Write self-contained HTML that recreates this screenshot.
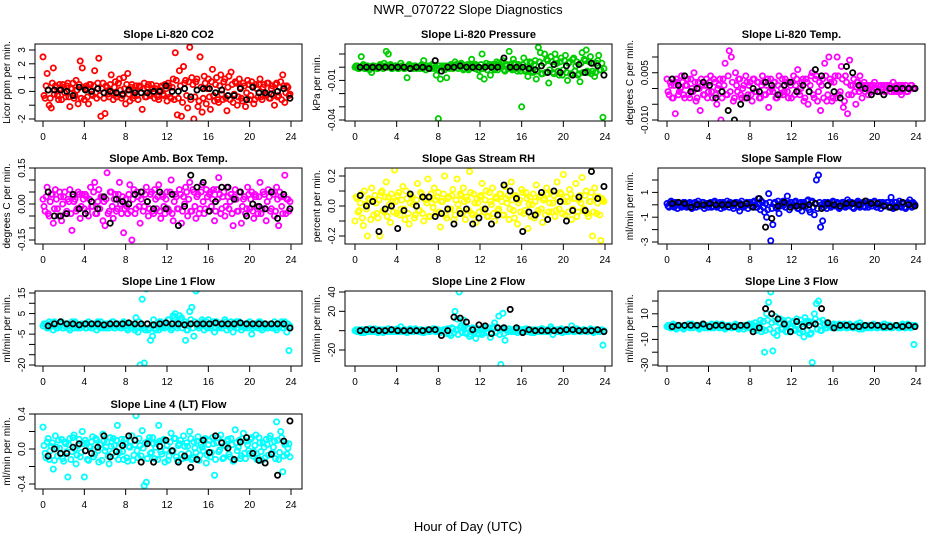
<!DOCTYPE html>
<html><head><meta charset="utf-8">
<style>
html,body{margin:0;padding:0;background:#fff;}
svg{display:block;font-family:"Liberation Sans",Arial,sans-serif;}
</style></head>
<body>
<svg id="chart" width="936" height="540" viewBox="0 0 936 540" xmlns="http://www.w3.org/2000/svg">
<rect x="0" y="0" width="936" height="540" fill="#fff"/>
<text x="468" y="14" text-anchor="middle" font-size="13">NWR_070722  Slope Diagnostics</text>
<text x="468" y="531" text-anchor="middle" font-size="13">Hour of Day (UTC)</text>
</svg>
<script>
const xTicks = [0,4,8,12,16,20,24];
const titles = ["Slope Li-820 CO2","Slope Li-820 Pressure","Slope Li-820 Temp.","Slope Amb. Box Temp.","Slope Gas Stream RH","Slope Sample Flow","Slope Line 1 Flow","Slope Line 2 Flow","Slope Line 3 Flow","Slope Line 4 (LT) Flow"];
const yTitles = ["Licor ppm per min.","kPa per min.","degrees C per min.","degrees C per min.","percent per min.","ml/min per min.","ml/min per min.","ml/min per min.","ml/min per min.","ml/min per min."];
const colors = ["#ff0000","#00cd00","#ff00ff","#ff00ff","#ffff00","#0000ff","#00ffff","#00ffff","#00ffff","#00ffff"];
const yTickVals = [[-2,-1,0,1,2,3],[-0.04,-0.03,-0.02,-0.01,0,0.01],[-0.010,-0.005,0,0.005,0.010],[-0.15,-0.10,-0.05,0,0.05,0.10,0.15],[-0.2,-0.1,0,0.1,0.2],[-3,-2,-1,0,1,2],[-20,-15,-10,-5,0,5,10,15],[-20,0,20,40],[-30,-20,-10,0,10,20],[-0.4,-0.2,0,0.2,0.4]];
const yTickLabels = [["-2","","0","1","2","3"],["-0.04","","","-0.01","",""],["-0.010","","","0.005",""],["-0.15","","","0.00","","","0.15"],["-0.2","","0.0","","0.2"],["-3","","-1","","1",""],["-20","","","-5","","5","","15"],["-20","","20","40"],["-30","","-10","","10",""],["-0.4","","0.0","","0.4"]];
const yHi = [3,0.01,0.010,0.15,0.2,2,15,40,20,0.4];
const yLo = [-2,-0.04,-0.010,-0.15,-0.2,-3,-20,-20,-30,-0.4];
const hours = [];
for (let i = 0; i < 120; i++) hours.push(+(i * 0.2).toFixed(1));
const hoursB = [];
for (let i = 0; i < 120; i++) hoursB.push(+(i * 0.2 + 0.1).toFixed(1));
const blackHours = [0.5,1.1,1.7,2.3,2.9,3.5,4.1,4.7,5.3,5.9,6.5,7.1,7.7,8.3,8.9,9.5,10.1,10.7,11.3,11.9,12.5,13.1,13.7,14.3,14.9,15.5,16.1,16.7,17.3,17.9,18.5,19.1,19.7,20.3,20.9,21.5,22.1,22.7,23.3,23.9];

const co2 = [2.5,-0.5,1.3,-1.0,-1.2,1.7,0.4,-0.3,0.5,-0.6, 0.3,-0.4,0.6,-1.1,0.2,-0.5,0.8,-0.9,2.2,1.7, -0.6,0.4,-0.9,0.5,-0.3,1.5,-0.5,2.4,-1.8,0.6, -1.6,0.3,-0.4,1.2,-0.6,0.7,-0.2,0.9,-0.5,1.0, -0.9,1.3,-0.7,0.5,-0.3,0.4,-0.6,0.3,-1.3,0.6, -0.4,0.5,-0.3,0.2,-0.5,0.4,-0.6,0.3,-0.2,0.5, -0.7,0.4,-0.5,0.9,2.8,-1.7,1.5,-1.8,1.8,0.8, -1.2,3.2,1.0,-2.0,0.7,-1.1,2.5,-1.5,1.1,-0.9, 0.9,-1.3,1.6,-0.7,1.0,-0.8,1.2,-0.6,0.9,-1.4, 1.1,1.4,-0.8,0.7,-1.0,0.9,-0.5,0.6,-1.1,0.8, -0.6,0.7,-0.9,0.5,-0.4,0.9,-0.6,0.5,-0.3,0.6, -0.5,0.4,-1.0,0.6,-0.3,0.7,1.2,-0.8,0.4,-0.3];
const co2B = [-0.3,0.4,0.1,-0.5,0.6,-0.2,0.3,-0.6,0.2,0.5, -0.1,0.4,-0.4,0.2,0.6,-0.3,0.1,0.5,-0.5,0.3, 0.2,-0.4,0.5,-0.2,0.4,-0.1,0.6,-0.3,0.2,-0.5, 0.4,-0.2,0.5,-0.1,0.3,-0.4,0.6,0.1,-0.3,0.2, 0.5,-0.2,0.3,-0.5,0.1,-0.3,0.4,-0.1,0.2,-0.4, 0.3,-0.2,0.5,-0.1,0.2,-0.4,0.1,0.4,-0.3,0.2, 0.6,-0.4,0.3,-0.6,0.8,-0.5,0.4,-0.8,0.6,-0.3, 0.7,-0.6,0.5,-0.4,0.9,-0.7,0.3,-0.5,0.6,0.2, -0.4,0.7,-0.3,0.5,-0.6,0.4,-0.2,0.7,-0.5,0.3, -0.6,0.5,-0.2,0.6,-0.4,0.3,-0.7,0.4,-0.1,0.5, -0.3,0.4,-0.6,0.2,0.5,-0.4,0.3,-0.2,0.6,-0.5, 0.2,-0.3,0.5,-0.4,0.3,-0.6,0.4,-0.1,0.3,-0.2];
const co2Mean = [0.1,0.1,0.1,0,-0.3,0.3,0.1,0,0.2,-0.1,0,-0.1,-0.2,0.1,-0.1,-0.1,-0.1,0,0,0.4,0,0,0.2,-0.4,0.1,0.2,0.2,-0.1,0.1,-0.3,-0.3,0.2,-0.6,0.3,-0.1,-0.1,-0.2,0,0.2,-0.5];
const press = [0,0.001,-0.001,0.008,0.002,-0.001,0.001,-0.002,-0.004,0.001, 0,-0.001,0.002,0.001,0.003,0.012,0.010,0.002,-0.001,0.001, 0.001,-0.001,0.003,0,-0.001,-0.008,0.002,0.001,-0.001,0.001, 0,-0.001,0.002,0.005,-0.002,0.001,0,0.002,-0.001,-0.006, -0.039,-0.009,0.001,-0.002,-0.008,0.001,0.002,-0.001,0.004,0.001, 0.001,0.003,-0.002,0.001,0.002,-0.001,0.006,0.001,0.002,-0.002, -0.007,0.010,-0.009,0.003,0.001,-0.006,0.002,-0.002,0.004,0.003, 0.001,0.005,-0.003,0.002,0.012,-0.001,0.006,0.002,-0.003,0.001, -0.030,0.007,-0.002,-0.007,0.004,-0.003,0.002,-0.009,0.015,0.011, -0.005,0.010,0.006,-0.012,0.008,-0.004,0.010,0.003,-0.006,0.007, -0.002,0.009,-0.010,0.004,-0.005,0.007,0.001,-0.006,-0.011,0.011, 0.006,0.013,-0.004,0.008,-0.003,-0.007,0.003,0.009,-0.002,-0.038];
const pressB = [0.001,-0.001,0,0.001,-0.001,0.001,0,-0.001,0.001,0, -0.001,0.001,0,-0.001,0.001,0,0.001,-0.001,0,0.001, -0.001,0,0.001,-0.001,0,0.001,-0.001,0,0.001,-0.001, 0,0.001,-0.001,0,0.001,0,-0.001,0.001,0,-0.001, 0.001,0,-0.001,0.001,0,-0.001,0.001,0,0.002,-0.001, 0,0.002,-0.001,0.001,-0.002,0,0.002,-0.001,0.001,-0.002, 0.002,-0.001,0.001,-0.002,0.002,0,-0.001,0.002,-0.002,0.001, 0.003,-0.002,0.001,-0.001,0.002,-0.002,0.003,-0.001,0.002,-0.003, 0.002,-0.003,0.004,-0.002,0.003,-0.004,0.005,-0.003,0.004,-0.005, 0.003,-0.004,0.005,-0.002,0.004,-0.005,0.006,-0.003,0.004,-0.006, 0.005,-0.004,0.003,-0.005,0.006,-0.003,0.004,-0.005,0.003,-0.004, 0.005,-0.003,0.004,-0.005,0.003,-0.004,0.005,-0.002,0.003,-0.001];
const pressMean = [0,0,0,0,0,0,0,0,-0.001,0,0,-0.001,0.005,-0.003,0,0,0.001,0,0,0,0,0,0,0.007,0,0,0,-0.001,-0.002,0.001,-0.004,0.002,-0.004,0.001,-0.006,0.002,-0.004,0.003,0.001,-0.006];
const temp = [0.003,-0.002,0.001,-0.003,-0.008,0.002,-0.001,0.004,-0.002,0.001, 0.003,-0.003,0.000,0.005,-0.004,0.002,-0.007,0.001,-0.002,0.003, -0.001,0.004,-0.003,0.002,-0.005,0.001,-0.010,0.003,0.008,-0.002, 0.012,0.010,-0.004,0.005,-0.001,0.003,-0.003,0.001,0.004,-0.002, 0.002,-0.004,0.003,-0.001,0.002,-0.003,0.004,-0.002,0.001,-0.006, 0.003,-0.001,0.002,-0.003,0.004,0.000,-0.002,0.003,-0.001,0.002, -0.003,0.004,0.001,0.006,-0.002,0.002,-0.004,0.003,-0.005,0.001, 0.005,-0.003,0.004,-0.001,-0.007,0.003,0.008,-0.004,0.010,0.002, -0.003,0.004,0.010,-0.002,0.007,-0.006,0.004,-0.008,0.009,-0.002, 0.003,-0.005,0.002,0.004,-0.003,0.002,0.001,-0.002,0.001,-0.001, 0.002,0.000,-0.001,0.001,0.000,-0.001,0.001,0.000,-0.001,0.002, 0.000,-0.001,0.001,-0.002,0.000,0.001,-0.001,0.000,0.001,0.000];
const tempB = [-0.001,0.002,-0.003,0.001,0.003,-0.002,0.000,0.002,-0.003,0.001, -0.002,0.003,-0.001,0.002,-0.003,0.000,0.003,-0.002,0.001,-0.003, 0.002,-0.001,0.003,-0.002,0.000,0.003,-0.003,0.001,-0.002,0.004, -0.001,0.002,-0.003,0.001,0.003,-0.002,0.000,-0.003,0.002,0.001, -0.002,0.003,-0.001,0.002,-0.003,0.001,0.002,-0.002,0.003,-0.001, 0.000,0.002,-0.003,0.001,-0.002,0.003,-0.001,0.002,-0.003,0.001, 0.002,-0.002,0.003,-0.001,0.000,0.003,-0.003,0.002,-0.001,0.004, -0.002,0.003,-0.004,0.002,0.001,-0.003,0.004,-0.002,0.003,-0.004, 0.002,-0.003,0.004,-0.001,0.003,-0.004,0.002,-0.002,0.001,0.001, -0.001,0.002,-0.001,0.000,0.001,-0.001,0.001,0.000,-0.001,0.001, 0.000,0.001,-0.001,0.000,0.001,-0.001,0.000,0.001,0.000,-0.001, 0.001,0.000,-0.001,0.001,0.000,-0.001,0.000,0.001,0.000,0.000];
const tempMean = [0.003,0.001,0.004,-0.001,0,0.002,0.001,-0.003,-0.001,-0.007,-0.010,-0.005,-0.003,0,-0.001,0.002,0.001,-0.002,0.001,0.002,-0.001,0.001,-0.001,0.006,0.004,0.001,-0.001,-0.003,0.007,0.005,0.001,0,-0.002,-0.001,-0.002,0,0,0,0,0];
const boxT = [0.02,-0.03,0.07,-0.05,0.04,-0.08,0.06,-0.02,0.05,-0.07, 0.03,-0.04,0.02,0.06,-0.11,0.01,-0.03,0.05,-0.06,0.04, -0.02,0.03,-0.05,0.07,-0.01,0.09,-0.04,0.06,0.03,-0.07, -0.09,0.13,-0.03,0.05,-0.06,0.04,-0.02,0.09,-0.04,-0.12, 0.02,-0.04,0.08,-0.15,0.06,-0.02,0.03,-0.08,0.05,-0.01, 0.07,-0.05,0.04,-0.03,0.06,-0.02,0.08,-0.06,0.03,-0.04, 0.05,-0.03,0.10,-0.07,0.04,-0.02,0.06,-0.08,0.03,0.07, -0.05,0.09,-0.03,0.05,-0.06,0.04,-0.02,0.08,-0.04,0.06, -0.03,0.05,0.02,-0.07,0.06,0.11,-0.04,0.03,-0.05,0.07, -0.02,0.04,-0.09,0.06,-0.03,0.05,-0.08,0.02,-0.04,0.07, -0.02,0.05,-0.06,0.03,-0.04,0.09,-0.02,0.04,-0.07,0.06, -0.03,0.05,-0.05,0.07,-0.09,0.03,-0.04,0.12,0.02,-0.03];
const boxTB = [-0.01,0.03,-0.04,0.01,0.04,-0.02,0.02,-0.05,0.03,0.00, 0.05,-0.03,0.01,-0.04,0.03,0.02,-0.02,0.04,-0.01,0.02, 0.04,-0.03,0.02,-0.01,0.05,-0.04,0.01,-0.02,0.03,0.01, 0.02,-0.04,0.05,-0.01,0.02,-0.03,0.04,0.00,0.03,-0.02, -0.01,0.04,-0.03,0.02,-0.04,0.05,-0.01,0.02,-0.03,0.04, 0.01,-0.02,0.05,-0.04,0.02,0.03,-0.03,0.04,-0.01,0.02, -0.02,0.05,-0.04,0.01,0.03,-0.02,0.04,-0.03,0.00,0.05, 0.02,-0.03,0.06,-0.01,0.03,-0.04,0.05,0.01,-0.02,0.03, 0.04,-0.01,0.06,-0.03,0.02,0.04,-0.02,0.05,-0.01,0.03, 0.01,-0.04,0.03,0.02,-0.03,0.05,-0.01,0.03,-0.02,0.04, 0.02,-0.03,0.04,-0.01,0.03,-0.04,0.05,-0.02,0.01,0.03, -0.02,0.04,-0.03,0.02,0.05,-0.01,0.03,-0.04,0.02,0.01];
const boxTMean = [0.05,-0.05,-0.05,-0.04,0.04,-0.02,-0.04,0.01,-0.02,0.03,-0.08,0.02,0.01,0.00,0.04,0.05,0.01,-0.02,0.05,-0.02,0.04,-0.09,-0.01,0.12,0.07,0.09,-0.03,0.01,0.07,0.07,0.02,0.05,-0.05,0.00,-0.01,-0.02,0.05,-0.06,0.04,-0.02];
const rh = [-0.10,0.05,-0.03,0.08,-0.13,0.01,-0.20,0.04,0.12,-0.06, 0.02,-0.08,-0.20,0.10,-0.04,0.16,0.06,-0.11,0.03,0.24, -0.05,0.09,-0.02,0.13,-0.09,0.05,-0.12,0.07,0.01,-0.06, 0.15,-0.03,0.08,-0.10,0.04,0.18,-0.07,0.02,0.12,-0.05, 0.09,-0.14,0.03,0.20,-0.08,0.06,-0.02,0.11,-0.06,0.18, -0.03,0.07,0.12,-0.09,0.04,0.23,-0.05,0.08,-0.11,0.02, 0.06,0.15,-0.04,0.10,-0.07,0.03,0.12,-0.10,0.05,-0.02, 0.08,-0.06,0.13,0.02,-0.09,0.16,-0.03,0.07,-0.12,0.04, 0.11,-0.05,0.09,-0.15,0.06,0.01,-0.08,0.14,-0.03,0.07, -0.11,0.05,0.12,-0.04,0.09,0.02,-0.07,0.16,-0.02,0.08, 0.21,-0.06,0.03,0.11,-0.09,0.05,0.15,-0.04,0.07,0.19, -0.02,0.10,-0.07,0.03,-0.20,0.12,-0.05,0.06,-0.23,0.04];
const rhB = [0.06,-0.04,0.02,-0.08,0.10,-0.02,0.05,-0.09,0.03,0.07, -0.05,0.04,0.09,-0.03,0.06,-0.07,0.01,0.08,-0.04,0.03, 0.07,-0.06,0.04,-0.02,0.10,-0.05,0.02,0.06,-0.08,0.04, -0.03,0.09,-0.05,0.05,0.02,-0.07,0.08,-0.01,0.04,0.06, -0.04,0.03,0.08,-0.06,0.05,-0.02,0.07,-0.09,0.04,0.01, 0.08,-0.05,0.03,0.06,-0.03,0.09,-0.06,0.02,0.05,-0.04, 0.07,-0.02,0.04,-0.07,0.09,0.01,-0.05,0.06,-0.03,0.08, 0.03,-0.06,0.05,0.07,-0.02,0.04,-0.08,0.06,0.02,-0.04, 0.09,-0.03,0.05,0.01,-0.07,0.08,0.03,-0.05,0.06,-0.02, 0.04,-0.06,0.08,0.02,-0.04,0.07,-0.03,0.05,0.09,-0.05, 0.03,0.06,-0.04,0.08,-0.02,0.05,-0.07,0.04,0.02,-0.03, 0.07,-0.05,0.03,0.09,-0.04,0.06,0.02,-0.06,0.05,0.03];
const rhMean = [0.07,0.00,0.03,-0.17,-0.02,0.00,-0.15,-0.03,0.08,0.00,0.06,0.06,-0.07,-0.05,-0.02,-0.12,-0.05,-0.02,-0.12,-0.08,-0.02,-0.12,-0.06,0.14,0.10,0.05,-0.17,-0.04,-0.06,0.09,-0.09,0.10,0.03,-0.10,-0.03,0.06,-0.03,0.23,0.05,0.13];
const sflow = [0.1,-0.2,0.3,-0.1,0.2,-0.3,0.1,-0.2,0.2,0, -0.1,0.2,-0.3,0.1,-0.2,0.3,-0.1,0.2,-0.3,0.1, -0.2,0.2,-0.1,0.3,-0.2,0.1,-0.3,0.2,-0.1,0.3, -0.2,0.1,-0.3,0.2,-0.1,-0.5,0.3,-0.2,0.1,-0.3, 0.2,-0.1,0.3,-0.2,0.5,-0.4,0.2,-0.6,-1.0,0.9, -2.9,-1.6,0.2,-0.3,-0.7,0.1,0.3,-0.2,0.7,-0.4, 0.2,-0.1,0.3,-0.3,0.1,-0.5,0.2,-0.1,0.4,-0.6, 0.3,-0.8,2.0,2.4,-1.8,-1.3,0.2,-0.3,0.1,-0.2, 0.3,-0.1,0.2,-0.3,0.1,0.2,-0.2,0.4,-0.1,0.2, -0.3,0.1,0.3,-0.2,0.1,-0.1,0.3,-0.2,0.2,-0.1, 0.3,-0.2,0.1,-0.3,0.2,-0.1,0.2,-0.2,0.6,-0.3, 0.2,-0.1,0.3,-0.2,0.1,-0.3,0.2,0.4,-0.2,0.1];
const sflowB = [-0.1,0.2,0,-0.2,0.1,0.2,-0.1,0,0.2,-0.2, 0.1,0,-0.2,0.2,0.1,-0.1,0,0.2,-0.1,0.1, 0,-0.2,0.2,0,-0.1,0.2,0.1,-0.2,0,0.1, 0.2,-0.1,0,0.2,-0.2,0.1,0,-0.1,0.2,0, -0.1,0.2,0,-0.2,0.1,0.3,-0.2,0.1,-0.4,0.2, -0.3,0.1,-0.2,0.3,-0.1,0.2,0,-0.2,0.1,0.2, -0.1,0.2,0,-0.3,0.2,0.1,-0.2,0.3,-0.4,0.2, -0.2,0.1,-0.3,0.2,0,-0.2,0.1,0.2,-0.1,0, 0.2,-0.1,0.1,-0.2,0.2,0,-0.1,0.2,0,-0.2, 0.1,0.2,-0.1,0,0.2,-0.2,0.1,0,-0.1,0.2, 0,-0.2,0.2,0.1,-0.1,0,0.2,-0.1,0.1,-0.2, 0.2,0,-0.1,0.2,-0.2,0.1,0,-0.1,0.2,0];
const sflowMean = [0.1,0.2,0.1,-0.2,0.0,0.0,0.1,0.0,0.0,0.0,0.1,0.0,0.1,-0.2,0.5,-1.8,-1.1,-0.1,0.2,-0.2,-0.1,-0.1,0.0,0.1,-0.3,0.1,0.0,-0.1,0.1,0.1,0.0,0.3,0.1,0.1,-0.1,-0.2,-0.2,0.2,0.0,-0.1];
const line1 = [-1,0,-2,1,-1,-3,0,-2,-1,1, -2,0,-1,-3,1,-2,0,-1,-2,-1, 0,-2,1,-1,-2,0,-3,-1,1,-2, -1,0,-2,-1,1,-2,0,-1,-2,1, -1,-3,0,-2,-1,3,-4,-20,12,-19, 17,-3,-8,-6,-2,0,-3,1,-1,-2, -1,2,-3,4,5,-2,4,3,0,-8, -3,6,8,-6,16,17,-1,2,-3,1, 2,-2,0,-4,1,-2,-1,0,2,-3, -1,1,-4,0,-2,1,-3,-1,0,-2, 1,-5,-1,0,-2,1,-3,0,-1,-2, 0,-2,1,-3,-1,0,-2,1,-4,-13];
const line1B = [0,-1,-2,0,-1,1,-2,-1,0,-2, -1,0,-2,-1,0,1,-2,-1,0,-1, -2,0,-1,-2,0,-1,1,-2,-1,0, -2,-1,0,1,-2,-1,0,-2,-1,0, -2,-1,0,-1,-3,-2,1,-1,-2,-3, 0,-2,-1,2,-3,-1,1,-2,0,-1, 2,-1,-2,3,0,-1,2,-2,1,-3, -1,2,-2,1,-1,-2,0,1,-1,-2, 0,-1,1,-2,0,-1,-2,0,1,-1, -2,0,-1,1,-2,-1,0,-2,-1,0, -1,-2,0,-1,1,-2,-1,0,-2,-1, 0,-1,-2,0,-1,1,-2,-1,0,-1];
const line1Mean = [-1,0,1,0,0,-0.5,0,0,0,-0.5,0,0,0,0.5,0,0,0,-0.5,0,0.5,0,0,-0.5,0,0,0,0,0.5,0,0,0,0.5,0,0,0,0,0,0,0,-2];
const line2 = [0,-1,1,-2,0,1,-1,2,0,-1, 1,-2,0,1,-1,0,2,-1,0,1, -1,0,4,-1,1,-2,0,1,-1,2, 0,-1,1,-2,0,1,-1,0,2,-1, 1,-2,0,1,-3,0,-5,2,20,12, 40,5,11,-2,3,-6,1,-3,-8,2, 0,-4,1,-2,3,-7,2,8,-1,15, -35,18,-10,0,2,-1,1,0,-2,1, 0,-1,2,-1,0,1,-2,0,1,-1, 2,0,-1,1,4,-4,0,1,-1,2, 0,-1,1,0,5,-1,0,1,-1,0, 1,-1,0,2,-1,0,1,-1,0,-15];
const line2B = [1,0,-1,1,-2,0,1,-1,0,2, -1,1,0,-2,1,-1,0,1,-1,0, 2,-1,0,1,-1,0,2,-1,1,0, -1,1,-2,0,1,-1,0,2,-1,1, 0,-1,1,-2,2,-3,3,-2,1,-4, 3,-2,4,-3,2,-4,3,-1,2,-3, 1,-2,3,-1,2,-3,4,-2,3,-4, 2,-3,1,-1,0,1,-1,0,2,-1, 1,0,-1,1,-2,0,1,-1,0,2, -1,0,1,-1,2,0,-1,1,0,-2, 1,0,-1,1,0,-1,2,0,-1,1, 0,-1,1,0,-2,1,0,-1,1,0];
const line2Mean = [0,1,1,0,0,1,0,0,0,0,0,1,1,-5,0,14,13,9,1,6,5,-3,3,3,22,3,-2,1,0,0,0,0,0,1,1,0,0,0,1,-1];
const line3 = [0,1,-1,2,0,-1,1,0,-2,1, 0,-1,2,0,1,-1,0,2,-1,1, 0,-1,1,0,2,-1,0,1,-2,0, 1,-1,0,2,-1,0,1,-2,1,0, -1,2,0,-3,1,5,-2,-20,10,19, 27,-19,8,-7,3,-2,5,1,-4,2, 0,3,-2,1,-5,2,-8,4,3,-6, -28,10,18,20,-3,5,1,-1,2,0, 1,-1,0,2,-1,1,0,-1,2,0, -1,1,0,3,-2,0,1,-1,0,1, 0,-1,1,0,-1,2,0,1,-1,0, 1,0,-1,1,0,-1,2,0,1,-14];
const line3B = [1,-1,0,1,-2,1,0,-1,1,0, 2,0,-1,1,0,-2,1,0,1,-1, 0,2,-1,0,1,-1,2,0,-1,1, 0,-1,1,0,-2,1,0,1,-1,2, 0,-2,3,-1,2,-4,4,-3,5,-2, 3,-5,4,-3,6,-2,3,-4,5,-1, 4,-3,6,-2,5,-4,7,-3,4,-5, 3,6,-2,4,-3,2,-1,1,0,-1, 2,0,-1,1,0,2,-1,0,1,-1, 0,2,-2,1,0,-1,1,0,-1,2, 0,-1,1,0,2,-1,0,1,-1,0, 1,-1,0,2,-1,0,1,-1,0,1];
const line3Mean = [0,1,1,1,1,2,0,1,1,0,0,1,1,-4,-1,14,10,6,2,-4,4,0,1,2,14,3,-1,1,1,0,0,1,1,1,0,0,1,0,1,0];
const line4 = [0.25,-0.05,0.08,-0.12,0.03,-0.23,0.15,-0.08,0.01,0.11, -0.14,0.06,-0.32,0.12,-0.03,0.16,-0.17,0.04,-0.09,0.20, -0.32,0.07,-0.13,0.02,0.14,-0.06,0.10,-0.15,0.05,0.17, -0.02,0.08,-0.17,0.03,0.12,-0.08,0.27,-0.04,0.11,-0.12, 0.06,-0.14,0.02,0.15,-0.07,0.38,-0.10,0.04,0.21,-0.42, -0.38,0.09,-0.05,0.13,-0.11,0.07,0.27,-0.03,0.10,-0.15, 0.04,-0.08,0.18,-0.02,0.12,-0.13,0.06,-0.06,0.15,-0.10, 0.03,0.20,-0.12,0.08,-0.04,0.14,-0.07,0.02,0.11,-0.16, 0.05,-0.09,0.13,-0.30,0.07,-0.03,0.16,-0.11,0.04,0.09, -0.06,0.12,-0.14,0.22,-0.02,0.10,-0.08,0.18,-0.11,0.05, -0.05,0.13,-0.03,0.16,-0.10,0.07,-0.13,0.02,0.11,-0.07, 0.15,-0.04,0.09,0.31,-0.12,0.20,-0.26,0.05,-0.06,0.06];
const line4B = [0.04,-0.10,0.12,-0.02,0.07,-0.13,0.02,0.10,-0.06,-0.11, 0.08,-0.03,0.05,-0.12,0.13,0.00,-0.07,0.11,-0.04,0.06, 0.10,-0.12,0.03,0.08,-0.09,0.12,-0.02,0.05,-0.13,0.09, 0.02,-0.08,0.13,-0.05,0.04,0.10,-0.12,0.06,-0.03,0.11, -0.10,0.03,0.09,-0.13,0.05,-0.02,0.12,-0.08,0.01,0.07, -0.11,0.13,-0.04,0.06,0.02,-0.12,0.09,-0.06,0.11,-0.01, -0.13,0.08,-0.03,0.12,-0.09,0.04,0.10,-0.11,0.03,0.07, -0.05,0.12,-0.10,0.01,0.09,-0.13,0.05,-0.02,0.12,-0.07, 0.10,-0.04,0.06,-0.12,0.13,-0.01,0.08,-0.10,0.03,0.11, -0.09,0.05,-0.13,0.07,0.02,-0.11,0.12,-0.05,0.09,-0.02, 0.11,-0.08,0.04,-0.12,0.13,-0.03,0.07,-0.10,0.05,0.12, -0.06,0.02,-0.11,0.10,-0.04,0.13,-0.08,0.06,0.01,-0.09];
const line4Mean = [-0.08,0.00,-0.05,-0.05,0.02,0.06,-0.02,-0.05,0.02,0.15,-0.09,-0.03,0.04,0.15,0.10,-0.15,0.06,-0.15,0.03,0.10,-0.02,-0.15,-0.08,-0.21,-0.12,0.10,-0.04,0.15,0.07,0.01,-0.12,0.08,0.13,-0.05,-0.13,-0.16,-0.06,-0.30,0.09,0.32];

const series = [co2,press,temp,boxT,rh,sflow,line1,line2,line3,line4];
const seriesB = [co2B,pressB,tempB,boxTB,rhB,sflowB,line1B,line2B,line3B,line4B];
const means = [co2Mean,pressMean,tempMean,boxTMean,rhMean,sflowMean,line1Mean,line2Mean,line3Mean,line4Mean];

const cols = [{l:35,r:302,x0:43,x24:291},{l:345,r:612,x0:355,x24:605},{l:658,r:925,x0:667,x24:916}];
const rows = [{t:44,b:121},{t:168,b:244},{t:291,b:366},{t:414,b:489}];
const yPix = [[50,119],[54,120],[57,120],[168,240],[176,236],[180,242],[293,365],[292,350],[301,365],[414,484]];

const NS = "http://www.w3.org/2000/svg";
const svg = document.getElementById("chart");
function mk(tag, attrs, parent) {
  const e = document.createElementNS(NS, tag);
  for (const k in attrs) e.setAttribute(k, attrs[k]);
  (parent || svg).appendChild(e);
  return e;
}

for (let p = 0; p < 10; p++) {
  const c = cols[p % 3], r = rows[Math.floor(p / 3)];
  const g = mk("g", {});
  
  
  const xs = h => c.x0 + (h / 24) * (c.x24 - c.x0);
  const ys = v => yPix[p][0] + (yHi[p] - v) / (yHi[p] - yLo[p]) * (yPix[p][1] - yPix[p][0]);

  const t = mk("text", {x:(c.l + c.r) / 2, y:r.t - 6, "text-anchor":"middle", "font-size":"11", "font-weight":"bold"}, g);
  t.textContent = titles[p];
  
  

  const xa = mk("g", {}, g);
  
  
  mk("line", {x1:xs(0), x2:xs(24), y1:r.b, y2:r.b, stroke:"#000"}, xa);
  xTicks.forEach(v => {
    mk("line", {x1:xs(v), x2:xs(v), y1:r.b, y2:r.b + 6, stroke:"#000"}, xa);
    const tl = mk("text", {x:xs(v), y:r.b + 19, "text-anchor":"middle", "font-size":"10"}, xa);
    tl.textContent = v;
    
    
  });

  const ya = mk("g", {}, g);
  
  
  const tv = yTickVals[p];
  mk("line", {x1:c.l, x2:c.l, y1:ys(tv[0]), y2:ys(tv[tv.length - 1]), stroke:"#000"}, ya);
  tv.forEach((v, i) => {
    const y = ys(v);
    mk("line", {x1:c.l - 6, x2:c.l, y1:y, y2:y, stroke:"#000"}, ya);
    if (yTickLabels[p][i]) {
      const tl = mk("text", {x:c.l - 10, y:y, "text-anchor":"middle", "font-size":"10", transform:`rotate(-90 ${c.l - 10} ${y})`}, ya);
      tl.textContent = yTickLabels[p][i];
      
      
    }
  });
  const ty = (r.t + r.b) / 2, tx = c.l - 25;
  const yt = mk("text", {x:tx, y:ty, "text-anchor":"middle", "font-size":"10", transform:`rotate(-90 ${tx} ${ty})`}, g);
  yt.textContent = yTitles[p];
  
  

  const cid = "clip" + p;
  const cp = mk("clipPath", {id:cid}, g);
  mk("rect", {x:c.l, y:r.t, width:c.r - c.l, height:r.b - r.t}, cp);
  const pts = mk("g", {"clip-path":`url(#${cid})`, fill:"none", "stroke-width":"1.8"}, g);
  
  
  seriesB[p].forEach((v, i) => {
    const pt = mk("circle", {cx:xs(hoursB[i]), cy:ys(v), r:2.6, stroke:colors[p]}, pts);
    
    
  });
  series[p].forEach((v, i) => {
    const pt = mk("circle", {cx:xs(hours[i]), cy:ys(v), r:2.6, stroke:colors[p]}, pts);
    
    
  });
  means[p].forEach((v, i) => {
    const pt = mk("circle", {cx:xs(blackHours[i]), cy:ys(v), r:2.6, stroke:"#000"}, pts);
    
    
  });
  const bx = mk("rect", {x:c.l, y:r.t, width:c.r - c.l, height:r.b - r.t, fill:"none", stroke:"#000"}, g);
  
  
}
</script>
</body></html>
